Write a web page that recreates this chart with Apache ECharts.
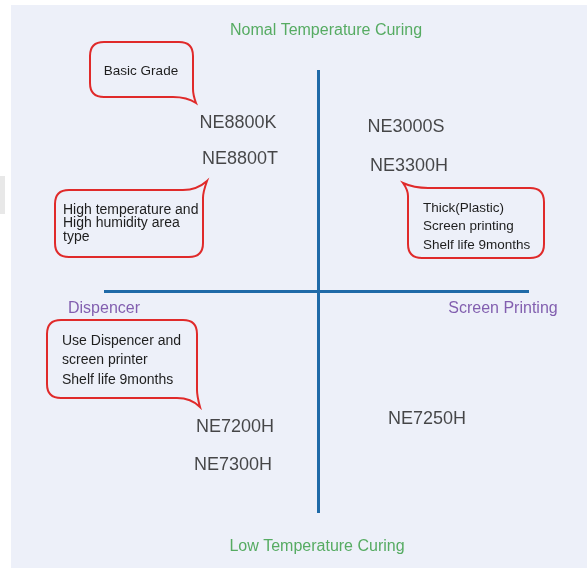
<!DOCTYPE html>
<html>
<head>
<meta charset="utf-8">
<script src="https://cdn.jsdelivr.net/npm/echarts@6/dist/echarts.min.js"></script>
<style>
html,body{margin:0;padding:0;background:#ffffff;}
#chart{width:587px;height:568px;}
</style>
</head>
<body>
<div id="chart"></div>
<script>
// ---- data ----
const products = ['NE8800K', 'NE8800T', 'NE3000S', 'NE3300H', 'NE7200H', 'NE7300H', 'NE7250H'];
const productX = [-80, -78, 88, 91, -83, -85, 109];
const productY = [168, 132, 164, 125, -136, -174, -128];

const axisTitles = ['Nomal Temperature Curing', 'Low Temperature Curing', 'Dispencer', 'Screen Printing'];
const axisTitleX = [8, -1, -214, 185];
const axisTitleY = [260, -256, -18, -18];

const crossH = [[-214, 0], [211, 0]];
const crossV = [[0, 221], [0, -222]];

const calloutTexts = [
  'Basic Grade',
  'High temperature and\nHigh humidity area\ntype',
  'Thick(Plastic)\nScreen printing\nShelf life 9months',
  'Use Dispencer and\nscreen printer\nShelf life 9months'
];
// box: left, top, right, bottom ; tail tip x,y ; text anchor x,y
const calloutBoxes = [
  [-228, 249, -125, 194],
  [-263, 101, -115, 34],
  [90, 103, 226, 33],
  [-271, -29, -121, -107]
];
const calloutTips = [[-122, 188], [-111, 110], [85, 108], [-118, -116]];
const calloutAnchors = [[-177, 220], [-255, 67.5], [105, 64.5], [-256, -69.5]];
const calloutTail = ['br', 'tr', 'tl', 'br'];

// ---- styles ----
const FONT = '"Liberation Sans", Arial, sans-serif';
const titleColors = ['#2f9a3c', '#2f9a3c', '#663a9c', '#663a9c'];
const calloutAlign = ['center', 'left', 'left', 'left'];
const calloutFont = [13.5, 14, 13.5, 14];
const calloutLH = [16, 13.5, 18.5, 19.5];

const chart = echarts.init(document.getElementById('chart'), null, {renderer: 'canvas'});

function bubblePath(L, T, R, B, tx, ty, type) {
  const r = 14;
  if (type === 'br') {
    return `M${L + r},${T} L${R - r},${T} Q${R},${T} ${R},${T + r} L${R},${B - 8} Q${R},${B - 2} ${tx},${ty} Q${R - 6},${B} ${R - 20},${B} L${L + r},${B} Q${L},${B} ${L},${B - r} L${L},${T + r} Q${L},${T} ${L + r},${T} Z`;
  } else if (type === 'tr') {
    return `M${L + r},${T} L${R - 20},${T} Q${R - 6},${T} ${tx},${ty} Q${R},${T + 2} ${R},${T + 8} L${R},${B - r} Q${R},${B} ${R - r},${B} L${L + r},${B} Q${L},${B} ${L},${B - r} L${L},${T + r} Q${L},${T} ${L + r},${T} Z`;
  } else {
    return `M${tx},${ty} Q${L + 6},${T} ${L + 20},${T} L${R - r},${T} Q${R},${T} ${R},${T + r} L${R},${B - r} Q${R},${B} ${R - r},${B} L${L + r},${B} Q${L},${B} ${L},${B - r} L${L},${T + 8} Q${L},${T + 2} ${tx},${ty} Z`;
  }
}

const calloutData = calloutBoxes.map((b, i) => [b[0], b[1], b[2], b[3], calloutTips[i][0], calloutTips[i][1], calloutAnchors[i][0], calloutAnchors[i][1]]);

const option = {
  animation: false,
  backgroundColor: '#ffffff',
  grid: {left: 11, top: 5, right: 0, bottom: 0, show: true, backgroundColor: '#edf0f9', borderWidth: 0},
  xAxis: {type: 'value', min: -307, max: 269, show: false},
  yAxis: {type: 'value', min: -277, max: 286, show: false},
  graphic: [
    {type: 'rect', left: 0, top: 176, shape: {width: 5, height: 38}, style: {fill: '#e8e8e8'}}
  ],
  series: [
    {
      type: 'lines',
      coordinateSystem: 'cartesian2d',
      polyline: false,
      silent: true,
      lineStyle: {color: '#1f6aa8', width: 3, opacity: 1},
      data: [{coords: crossH}, {coords: crossV}]
    },
    {
      type: 'custom',
      coordinateSystem: 'cartesian2d',
      silent: true,
      data: calloutData,
      renderItem: function (params, api) {
        const i = params.dataIndex;
        const tl = api.coord([api.value(0), api.value(1)]);
        const br = api.coord([api.value(2), api.value(3)]);
        const tip = api.coord([api.value(4), api.value(5)]);
        const an = api.coord([api.value(6), api.value(7)]);
        return {
          type: 'group',
          children: [
            {
              type: 'path',
              shape: {pathData: bubblePath(tl[0], tl[1], br[0], br[1], tip[0], tip[1], calloutTail[i])},
              style: {fill: 'none', stroke: '#e02a2a', lineWidth: 2}
            },
            {
              type: 'text',
              x: an[0], y: an[1],
              style: {
                text: calloutTexts[i],
                fill: '#1e1e1e',
                font: calloutFont[i] + 'px ' + FONT,
                lineHeight: calloutLH[i],
                align: calloutAlign[i],
                verticalAlign: 'middle'
              }
            }
          ]
        };
      }
    },
    {
      type: 'scatter',
      silent: true,
      symbolSize: 1,
      itemStyle: {color: 'transparent'},
      data: products.map((p, i) => ({name: p, value: [productX[i], productY[i]]})),
      label: {
        show: true, position: 'inside', formatter: '{b}',
        color: '#1a1a1a', fontSize: 18, fontFamily: FONT
      }
    },
    {
      type: 'scatter',
      silent: true,
      symbolSize: 1,
      itemStyle: {color: 'transparent'},
      data: axisTitles.map((t, i) => ({
        name: t, value: [axisTitleX[i], axisTitleY[i]],
        label: {color: titleColors[i]}
      })),
      label: {
        show: true, position: 'inside', formatter: '{b}',
        fontSize: 16, fontFamily: FONT
      }
    }
  ]
};
chart.setOption(option);
</script>
</body>
</html>
